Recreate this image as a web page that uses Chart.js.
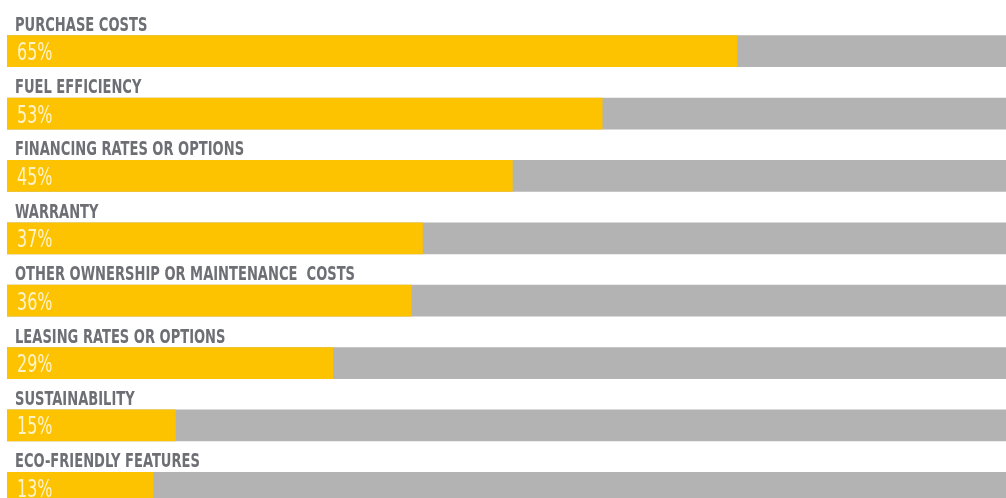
<!DOCTYPE html>
<html>
<head>
<meta charset="utf-8">
<script src="https://cdn.jsdelivr.net/npm/chart.js@4/dist/chart.umd.min.js"></script>
<style>
  html,body{margin:0;padding:0;background:#fff;overflow:hidden;}
  #wrap{width:1006px;height:498px;overflow:hidden;position:relative;}
  #c{position:absolute;left:0;top:0;}
</style>
</head>
<body>
<div id="wrap"><canvas id="c" width="1140" height="530"></canvas></div>
<script>
const categories = [
  "PURCHASE COSTS",
  "FUEL EFFICIENCY",
  "FINANCING RATES OR OPTIONS",
  "WARRANTY",
  "OTHER OWNERSHIP OR MAINTENANCE  COSTS",
  "LEASING RATES OR OPTIONS",
  "SUSTAINABILITY",
  "ECO-FRIENDLY FEATURES"
];
const shares = [65, 53, 45, 37, 36, 29, 15, 13];
const track = [100, 100, 100, 100, 100, 100, 100, 100];

const YELLOW = "#fdc300", GREY = "#b3b3b3";
const NARROW = "'Liberation Sans Narrow', 'DejaVu Sans Condensed', sans-serif";

// category name above each bar, percentage inside the yellow part
const barText = {
  id: "barText",
  afterDatasetsDraw(chart){
    const ctx = chart.ctx, meta = chart.getDatasetMeta(1), left = chart.chartArea.left;
    meta.data.forEach((el, i)=>{
      const top = el.y - el.height/2;
      ctx.save();
      ctx.translate(left + 8, top - 5);
      ctx.scale(0.765, 1);
      ctx.font = "bold 19px " + NARROW;
      ctx.fillStyle = "#6e6f75";
      ctx.fillText(categories[i], 0, 0);
      ctx.restore();

      ctx.save();
      ctx.translate(left + 10, el.y + 9);
      ctx.scale(0.71, 1);
      ctx.font = "25px " + NARROW;
      ctx.fillStyle = "#fff3c8";
      ctx.fillText(shares[i] + "%", 0, 0);
      ctx.restore();
    });
  }
};

new Chart(document.getElementById("c"), {
  type: "bar",
  data: {
    labels: categories,
    datasets: [
      {data: track, backgroundColor: GREY, grouped: false, barThickness: 31, order: 2},
      {data: shares, backgroundColor: YELLOW, grouped: false, barThickness: 31, order: 1}
    ]
  },
  options: {
    indexAxis: "y",
    responsive: false,
    animation: false,
    events: [],
    layout: {padding: {left: 7, right: 10, top: 20, bottom: 11}},
    plugins: {legend: {display: false}, tooltip: {enabled: false}},
    scales: {
      x: {display: false, min: 0, max: 100},
      y: {display: false, offset: true}
    }
  },
  plugins: [barText]
});
</script>
</body>
</html>
